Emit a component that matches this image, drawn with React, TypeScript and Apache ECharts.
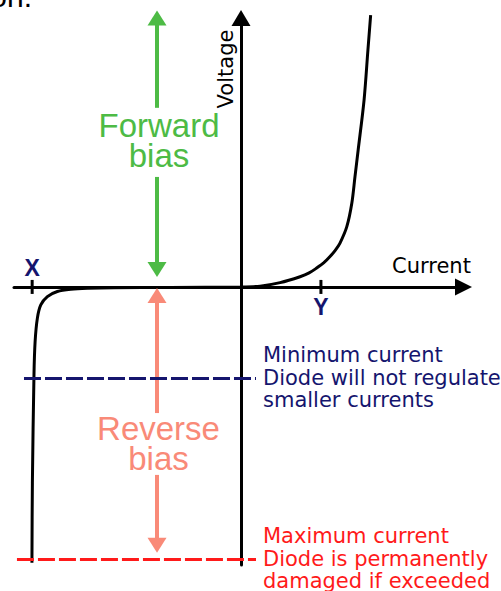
import React, { useEffect, useRef } from 'react';
import * as echarts from 'echarts';

// Axis ranges (current on x, voltage on y)
const currentRange = [-10, 9.8];
const voltageRange = [-10.34, 10];

// Diode characteristic curve
const reverseCurrent = [-9.21, -9.19, -9.12, -9.07, -8.97, -8.82, -8.53, -8.09, -7.5, -6.77, -5.59, -3.13, 0];
const reverseVoltage = [-10.26, -7.29, -3.27, -2.03, -1.16, -0.67, -0.36, -0.17, -0.086, -0.048, -0.026, -0.019, 0];
const forwardCurrent = [0.84, 1.72, 2.6, 3.0, 3.33, 3.65, 3.92, 4.15, 4.36, 4.66, 4.88, 5.02, 5.16, 5.42, 5.59, 5.71];
const forwardVoltage = [0.03, 0.16, 0.38, 0.52, 0.7, 0.9, 1.13, 1.36, 1.63, 2.24, 3.11, 4.1, 5.09, 6.95, 8.81, 10.11];

// Marked points on the current axis
const tickNames = ['X', 'Y'];
const tickCurrent = [-9.2, 3.52];

// Bias arrows
const biasArrowCurrent = -3.7;
const forwardArrowSpans = [[6.66, 10], [4.09, 0.65]];
const reverseArrowSpans = [[-4.69, -0.32], [-6.99, -9.61]];
const biasLabels = ['Forward\nbias', 'Reverse\nbias'];

// Current limits
const minLevel = -3.38;
const maxLevel = -10.11;
const minLineCurrent = [-9.56, 0.66];
const maxLineCurrent = [-9.87, 0.66];
const minLabelLines = ['Minimum current', 'Diode will not regulate', 'smaller currents'];
const maxLabelLines = ['Maximum current', 'Diode is permanently', 'damaged if exceeded'];

const axisNames = ['Current', 'Voltage'];

const GREEN = '#4dbb45';
const SALMON = '#f98a78';
const NAVY = '#15156e';
const RED = '#ff1a1a';

export default function App() {
  const ref = useRef<HTMLDivElement>(null);

  useEffect(() => {
    const chart = echarts.init(ref.current!, null, { renderer: 'svg' });

    const curve: number[][] = [];
    reverseCurrent.forEach((c, i) => curve.push([c, reverseVoltage[i]]));
    forwardCurrent.forEach((c, i) => curve.push([c, forwardVoltage[i]]));

    const arrowItem = (span: number[], color: string) => [
      { coord: [biasArrowCurrent, span[0]], symbol: 'none', lineStyle: { color, width: 4, type: 'solid' } },
      { coord: [biasArrowCurrent, span[1]], symbol: 'triangle', symbolSize: [19, 15], itemStyle: { color } },
    ];

    const textFont = 'Liberation Sans, Arial, sans-serif';
    const sideFont = 'DejaVu Sans, sans-serif';

    chart.setOption({
      animation: false,
      backgroundColor: '#ffffff',
      grid: { left: 14, top: 18, width: 449.5, height: 547, containLabel: false, outerBoundsMode: 'none' },
      xAxis: {
        type: 'value',
        min: currentRange[0],
        max: currentRange[1],
        axisLine: {
          onZero: true,
          symbol: ['none', 'triangle'],
          symbolSize: [17, 17],
          lineStyle: { color: '#000', width: 3 },
        },
        axisTick: { show: false },
        axisLabel: { show: false },
        splitLine: { show: false },
      },
      yAxis: {
        type: 'value',
        min: voltageRange[0],
        max: voltageRange[1],
        axisLine: {
          onZero: true,
          symbol: ['none', 'triangle'],
          symbolSize: [19, 16],
          lineStyle: { color: '#000', width: 3 },
        },
        axisTick: { show: false },
        axisLabel: { show: false },
        splitLine: { show: false },
      },
      series: [
        {
          type: 'line',
          data: curve,
          smooth: 0.3,
          symbol: 'none',
          clip: false,
          silent: true,
          lineStyle: { color: '#000', width: 3 },
          z: 3,
        },
        {
          type: 'scatter',
          silent: true,
          symbol: 'rect',
          symbolSize: [3, 14],
          itemStyle: { color: '#000', opacity: 1 },
          z: 4,
          data: tickNames.map((name, i) => ({
            name,
            value: [tickCurrent[i], 0],
            label: {
              show: true,
              formatter: name,
              position: i === 0 ? 'top' : 'bottom',
              distance: i === 0 ? 0 : 1.5,
              color: NAVY,
              opacity: 1,
              fontWeight: 'bold',
              fontSize: 23,
              fontFamily: textFont,
            },
          })),
        },
        {
          type: 'line',
          data: [],
          silent: true,
          markLine: {
            silent: true,
            symbol: ['none', 'triangle'],
            label: { show: false },
            emphasis: { disabled: true },
            data: [
              ...forwardArrowSpans.map((s) => arrowItem(s, GREEN)),
              ...reverseArrowSpans.map((s) => arrowItem(s, SALMON)),
            ],
          },
        },
        {
          type: 'line',
          data: [],
          silent: true,
          markLine: {
            silent: true,
            symbol: ['none', 'none'],
            emphasis: { disabled: true },
            label: {
              show: true,
              position: 'end',
              distance: 7,
              fontSize: 21,
              lineHeight: 22.5,
              fontFamily: sideFont,
            },
            data: [
              [
                {
                  coord: [minLineCurrent[0], minLevel],
                  lineStyle: { color: NAVY, width: 3, type: [17, 4] },
                  label: { formatter: minLabelLines.join('\n'), color: NAVY },
                },
                { coord: [minLineCurrent[1], minLevel] },
              ],
              [
                {
                  coord: [maxLineCurrent[0], maxLevel],
                  lineStyle: { color: RED, width: 3, type: [17, 4] },
                  label: { formatter: maxLabelLines.join('\n'), color: RED },
                },
                { coord: [maxLineCurrent[1], maxLevel] },
              ],
            ],
          },
        },
      ],
      graphic: [
        {
          type: 'text',
          x: 159,
          y: 140,
          silent: true,
          style: {
            text: biasLabels[0],
            align: 'center',
            verticalAlign: 'middle',
            fontSize: 33,
            lineHeight: 30,
            fontFamily: textFont,
            fill: GREEN,
          },
        },
        {
          type: 'text',
          x: 158.5,
          y: 443.5,
          silent: true,
          style: {
            text: biasLabels[1],
            align: 'center',
            verticalAlign: 'middle',
            fontSize: 33,
            lineHeight: 30,
            fontFamily: textFont,
            fill: SALMON,
          },
        },
        {
          type: 'text',
          x: 392,
          y: 265.5,
          silent: true,
          style: {
            text: axisNames[0],
            align: 'left',
            verticalAlign: 'middle',
            fontSize: 21,
            fontFamily: sideFont,
            fill: '#000',
          },
        },
        {
          type: 'text',
          x: 225.5,
          y: 69,
          rotation: Math.PI / 2,
          silent: true,
          style: {
            text: axisNames[1],
            align: 'center',
            verticalAlign: 'middle',
            fontSize: 21,
            fontFamily: sideFont,
            fill: '#000',
          },
        },
        {
          type: 'text',
          x: 32,
          y: -4,
          silent: true,
          style: {
            text: 'on.',
            align: 'right',
            verticalAlign: 'middle',
            fontSize: 30,
            fontFamily: textFont,
            fill: '#000',
          },
        },
      ],
    });

    return () => chart.dispose();
  }, []);

  return (
    <div
      ref={ref}
      style={{ position: 'fixed', left: 0, top: 0, width: 501, height: 591, background: '#fff' }}
    />
  );
}
